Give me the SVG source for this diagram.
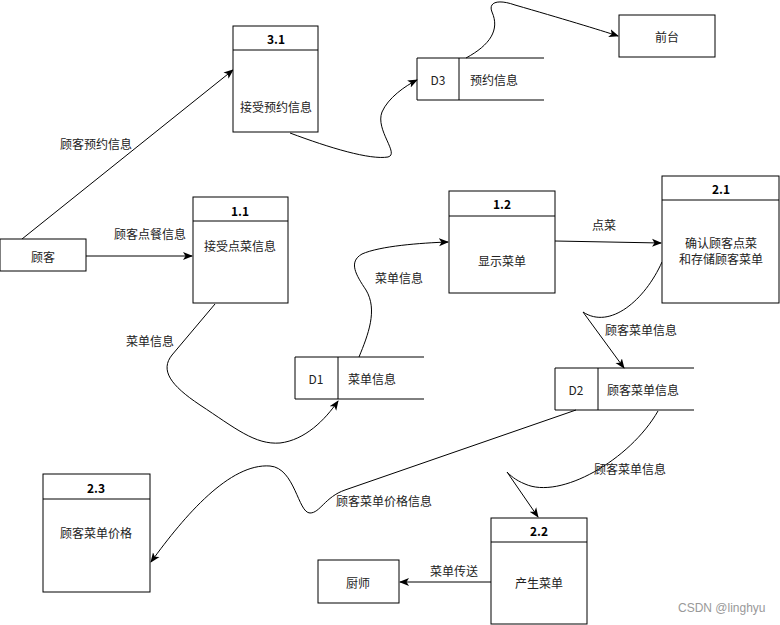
<svg xmlns="http://www.w3.org/2000/svg" width="780" height="625" viewBox="0 0 780 625">
<style>
.box{fill:#fff;stroke:#000;stroke-width:1}
.ln{fill:none;stroke:#000;stroke-width:1}
.t{font-family:"Noto Sans CJK SC","Liberation Sans",sans-serif;font-size:12px;fill:#222;text-anchor:middle;dominant-baseline:central}
.b{font-weight:bold;fill:#000}
.e{fill:none;stroke:#000;stroke-width:1;marker-end:url(#ah)}
.wm{font-family:"Liberation Sans","Noto Sans",sans-serif;font-size:12px;fill:#999;dominant-baseline:central}
</style>
<defs>
<marker id="ah" viewBox="0 0 10 10" refX="9" refY="5" markerWidth="10" markerHeight="10" markerUnits="userSpaceOnUse" orient="auto">
<path d="M0,1 L10,5 L0,9 L2.5,5 Z" fill="#000"/>
</marker>
</defs>
<rect width="780" height="625" fill="#fff"/>

<g id="connectors">
<path class="e" d="M22,239 L233,70"/>
<path class="e" d="M86,256 L192,256"/>
<path class="e" d="M290,133 C330,148 370,160 388,157 C400,154 375,130 382,112 C388,98 405,86 417,80"/>
<path class="e" d="M466,58 C490,45 500,30 492,12 C488,2 498,-1 515,5 C560,18 600,30 618,36"/>
<path class="e" d="M215,304 L172,355 C160,370 170,385 200,405 C235,428 255,445 280,443 C305,440 325,420 338,401"/>
<path class="e" d="M359,357 C368,335 378,310 366,290 C356,275 348,262 362,254 C380,246 420,243 448,242"/>
<path class="e" d="M555,241 L661,243"/>
<path class="e" d="M662,262 C645,300 610,330 583,312 L624,368"/>
<path class="e" d="M658,411 C630,460 560,500 525,484 C515,480 510,475 507,472 L538,517"/>
<path class="e" d="M576,410 L345,490 C325,497 320,513 310,513 C298,513 295,468 270,466 C230,463 185,515 151,562"/>
<path class="e" d="M491,582 L400,582"/>
<text class="t" x="96" y="143">顾客预约信息</text>
<text class="t" x="150" y="233">顾客点餐信息</text>
<text class="t" x="150" y="340">菜单信息</text>
<text class="t" x="399" y="277">菜单信息</text>
<text class="t" x="604" y="224">点菜</text>
<text class="t" x="641" y="329">顾客菜单信息</text>
<text class="t" x="630" y="468">顾客菜单信息</text>
<text class="t" x="384" y="500">顾客菜单价格信息</text>
<text class="t" x="454" y="570">菜单传送</text>
</g>

<g id="customer">
<rect class="box" x="0" y="239" width="86" height="32"/>
<text class="t" x="43" y="256">顾客</text>
</g>

<g id="p31">
<rect class="box" x="233" y="26" width="85" height="106"/>
<line class="ln" x1="233" y1="50" x2="318" y2="50"/>
<text class="t b" x="276" y="38">3.1</text>
<text class="t" x="276" y="106">接受预约信息</text>
</g>

<g id="p11">
<rect class="box" x="193" y="197" width="95" height="106"/>
<line class="ln" x1="193" y1="221" x2="288" y2="221"/>
<text class="t b" x="240" y="210">1.1</text>
<text class="t" x="240" y="245">接受点菜信息</text>
</g>

<g id="p12">
<rect class="box" x="449" y="191" width="106" height="102"/>
<line class="ln" x1="449" y1="216" x2="555" y2="216"/>
<text class="t b" x="502" y="203">1.2</text>
<text class="t" x="502" y="260">显示菜单</text>
</g>

<g id="p21">
<rect class="box" x="662" y="176" width="117" height="127"/>
<line class="ln" x1="662" y1="200" x2="779" y2="200"/>
<text class="t b" x="721" y="188">2.1</text>
<text class="t" x="721" y="242">确认顾客点菜</text>
<text class="t" x="721" y="258">和存储顾客菜单</text>
</g>

<g id="frontdesk">
<rect class="box" x="619" y="15" width="96" height="42"/>
<text class="t" x="667" y="36">前台</text>
</g>

<g id="d3">
<path class="ln" d="M544,58 L417,58 L417,100 L544,100 M459,58 L459,100"/>
<text class="t" x="438" y="79">D3</text>
<text class="t" x="494" y="79">预约信息</text>
</g>

<g id="d1">
<path class="ln" d="M424,357 L295,357 L295,399 L424,399 M338,357 L338,399"/>
<text class="t" x="316" y="378">D1</text>
<text class="t" x="372" y="378">菜单信息</text>
</g>

<g id="d2">
<path class="ln" d="M694,368 L555,368 L555,410 L694,410 M598,368 L598,410"/>
<text class="t" x="576" y="389">D2</text>
<text class="t" x="643" y="389">顾客菜单信息</text>
</g>

<g id="p23">
<rect class="box" x="43" y="474" width="107" height="118"/>
<line class="ln" x1="43" y1="499" x2="150" y2="499"/>
<text class="t b" x="96" y="487">2.3</text>
<text class="t" x="96" y="532">顾客菜单价格</text>
</g>

<g id="chef">
<rect class="box" x="318" y="560" width="81" height="43"/>
<text class="t" x="358" y="582">厨师</text>
</g>

<g id="p22">
<rect class="box" x="491" y="518" width="96" height="106"/>
<line class="ln" x1="491" y1="542" x2="587" y2="542"/>
<text class="t b" x="539" y="530">2.2</text>
<text class="t" x="539" y="582">产生菜单</text>
</g>

<text class="wm" x="678" y="608">CSDN @linghyu</text>
</svg>
